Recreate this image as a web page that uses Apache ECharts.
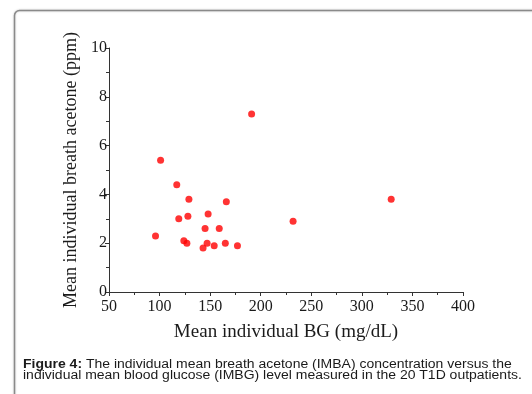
<!DOCTYPE html>
<html>
<head>
<meta charset="utf-8">
<script src="https://cdn.jsdelivr.net/npm/echarts@6/dist/echarts.min.js"></script>
<style>
  html, body { margin: 0; padding: 0; background: #fff; }
  #chart { width: 532px; height: 394px; }
</style>
</head>
<body>
<div id="chart"></div>
<script>
// mean BG (mg/dL) vs mean breath acetone (ppm), one point per patient
const bgValues = [191, 101, 117, 129, 166, 119, 128, 148, 96, 145, 159, 124, 127, 147, 143, 154, 165, 177, 232, 329];
const acetoneValues = [7.3, 5.4, 4.4, 3.8, 3.7, 3.0, 3.1, 3.2, 2.3, 2.6, 2.6, 2.1, 2.0, 2.0, 1.8, 1.9, 2.0, 1.9, 2.9, 3.8];
const xTicks = [50, 100, 150, 200, 250, 300, 350, 400];
const yTicks = [0, 2, 4, 6, 8, 10];

const points = bgValues.map((x, i) => [x, acetoneValues[i]]);
const serif = '"Liberation Serif", "Times New Roman", serif';
const ink = '#1a1a1a';

const chart = echarts.init(document.getElementById('chart'));
chart.setOption({
  animation: false,
  grid: { left: 109, right: 69, top: 48, bottom: 102 },
  xAxis: {
    type: 'value',
    min: xTicks[0], max: xTicks[xTicks.length - 1], interval: 50,
    name: 'Mean individual BG (mg/dL)',
    nameLocation: 'middle', nameGap: 31,
    nameTextStyle: { fontFamily: serif, fontSize: 19, color: ink },
    axisLine: { lineStyle: { color: '#333', width: 1 } },
    axisTick: { show: true, length: 4, lineStyle: { color: '#333' } },
    minorTick: { show: true, splitNumber: 2, length: 3, lineStyle: { color: '#333' } },
    splitLine: { show: false },
    axisLabel: { fontFamily: serif, fontSize: 16, color: ink, margin: 7 }
  },
  yAxis: {
    type: 'value',
    min: yTicks[0], max: yTicks[yTicks.length - 1], interval: 2,
    name: 'Mean individual breath acetone (ppm)',
    nameLocation: 'middle', nameGap: 24, nameRotate: 90,
    nameTextStyle: { fontFamily: serif, fontSize: 18, color: ink },
    axisLine: { show: true, lineStyle: { color: '#333', width: 1 } },
    axisTick: { show: true, length: 4, lineStyle: { color: '#333' } },
    minorTick: { show: true, splitNumber: 2, length: 3, lineStyle: { color: '#333' } },
    splitLine: { show: false },
    axisLabel: { fontFamily: serif, fontSize: 16, color: ink, margin: 2 }
  },
  series: [{
    type: 'scatter',
    data: points,
    symbol: 'circle',
    symbolSize: 7,
    itemStyle: { color: '#ff0000' }
  }],
  graphic: [
    {
      type: 'rect',
      shape: { x: 14.5, y: 10.5, width: 540, height: 400, r: 5 },
      style: { fill: 'none', stroke: '#8a8a8a', lineWidth: 1.5, shadowBlur: 2, shadowColor: 'rgba(0,0,0,0.25)' },
      silent: true
    },
    {
      type: 'text',
      x: 23, y: 359,
      scaleX: 1.165,
      style: {
        text: '{b|Figure 4:} The individual mean breath acetone (IMBA) concentration versus the\nindividual mean blood glucose (IMBG) level measured in the 20 T1D outpatients.',
        font: '12px "Liberation Sans", Arial, sans-serif',
        fill: '#1a1a1a',
        lineHeight: 11,
        rich: {
          b: { fontWeight: 'bold', fontSize: 12, fontFamily: '"Liberation Sans", Arial, sans-serif', fill: '#1a1a1a' }
        }
      }
    }
  ]
});
</script>
</body>
</html>
